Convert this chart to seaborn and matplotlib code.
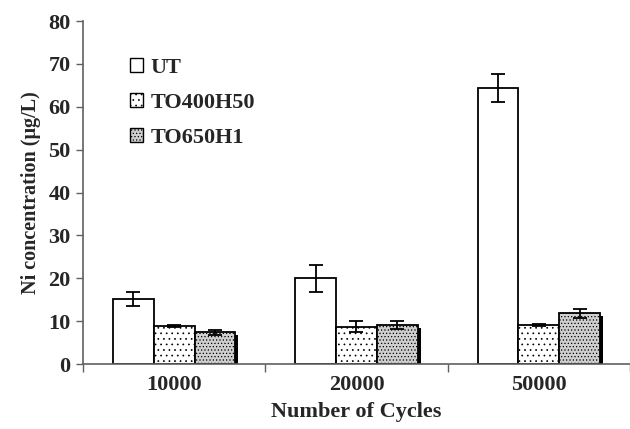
import matplotlib
matplotlib.use("Agg")
import matplotlib.pyplot as plt
import matplotlib.patches as mpatches
import matplotlib.transforms as mtransforms
import seaborn as sns
import pandas as pd
import numpy as np

cycles = ["10000", "20000", "50000"]
series = ["UT", "TO400H50", "TO650H1"]
ut_vals = [15.2, 20.0, 64.3]
ut_err = [1.6, 3.2, 3.3]
to400_vals = [8.9, 8.7, 9.1]
to400_err = [0.2, 1.3, 0.3]
to650_vals = [7.4, 9.1, 11.8]
to650_err = [0.6, 0.9, 1.1]

sns.set_theme(style="white")
plt.rcParams["font.family"] = ["Liberation Serif", "DejaVu Serif"]
plt.rcParams["font.weight"] = "bold"
plt.rcParams["hatch.linewidth"] = 0.5

df = pd.DataFrame({
    "cycles": cycles * 3,
    "series": [s for s in series for _ in cycles],
    "value": ut_vals + to400_vals + to650_vals,
})
errs = {"UT": ut_err, "TO400H50": to400_err, "TO650H1": to650_err}

fig = plt.figure(figsize=(6.3, 4.29), dpi=100)
ax = fig.add_axes([0.1317, 0.1515, 0.8683, 0.7995])

styles = {
    "UT": dict(facecolor="white", hatch=None),
    "TO400H50": dict(facecolor="white", hatch="..."),
    "TO650H1": dict(facecolor="#cfcfcf", hatch="....."),
}

sns.barplot(data=df, x="cycles", y="value", hue="series", order=cycles,
            hue_order=series, width=0.67, ax=ax, errorbar=None,
            palette=["white"] * 3, edgecolor="black", linewidth=1.3,
            legend=False, saturation=1)

shadow_tr = mtransforms.offset_copy(ax.transData, fig=fig, x=3, y=-3, units="dots")
for ci, s in enumerate(series):
    cont = ax.containers[ci]
    xs, ys = [], []
    for bar in cont:
        bar.set_facecolor(styles[s]["facecolor"])
        if styles[s]["hatch"]:
            bar.set_hatch(styles[s]["hatch"])
        bar.set_zorder(2)
        if s == "TO650H1":
            sh = mpatches.Rectangle((bar.get_x(), bar.get_y()), bar.get_width(), bar.get_height(),
                                    facecolor="black", edgecolor="none", zorder=1)
            ax.add_patch(sh)
            sh.set_transform(shadow_tr)
        xs.append(bar.get_x() + bar.get_width() / 2)
        ys.append(bar.get_height())
    ax.errorbar(xs, ys, yerr=errs[s], fmt="none", ecolor="black",
                elinewidth=1.3, capsize=5, capthick=1.3, zorder=4)

ax.set_xlim(-0.5, 2.47)
ax.set_ylim(0, 80)
ax.set_yticks(np.arange(0, 81, 10))
ax.set_xticks([0, 1, 2])
ax.set_xticklabels(cycles)
ax.set_xticks([-0.5, 0.5, 1.5, 2.5], minor=True)
ax.tick_params(axis="x", which="major", length=0, pad=8, labelsize=16)
ax.tick_params(axis="x", which="minor", length=6, width=1, color="#606060", direction="out", bottom=True)
ax.tick_params(axis="y", length=5, width=1, color="#606060", direction="out", left=True, labelsize=16, pad=4)
for lab in ax.get_xticklabels() + ax.get_yticklabels():
    lab.set_fontweight("bold")

for side in ["top", "right"]:
    ax.spines[side].set_visible(False)
for side in ["left", "bottom"]:
    ax.spines[side].set_color("#606060")
    ax.spines[side].set_linewidth(1.2)

ax.set_xlabel("Number of Cycles", fontsize=16, fontweight="bold", labelpad=5)
ax.set_ylabel("Ni concentration (μg/L)", fontsize=14.5, fontweight="bold", labelpad=5)

handles = [mpatches.Patch(facecolor=styles[s]["facecolor"], edgecolor="black",
                          hatch=styles[s]["hatch"], linewidth=1) for s in series]
leg = ax.legend(handles, series, loc="upper left", bbox_to_anchor=(0.049, 0.95),
                frameon=False, handlelength=0.6, handleheight=0.6,
                handletextpad=0.35, labelspacing=0.66,
                prop={"family": "Liberation Serif", "weight": "bold", "size": 16})

fig.savefig("out.png", dpi=100)
